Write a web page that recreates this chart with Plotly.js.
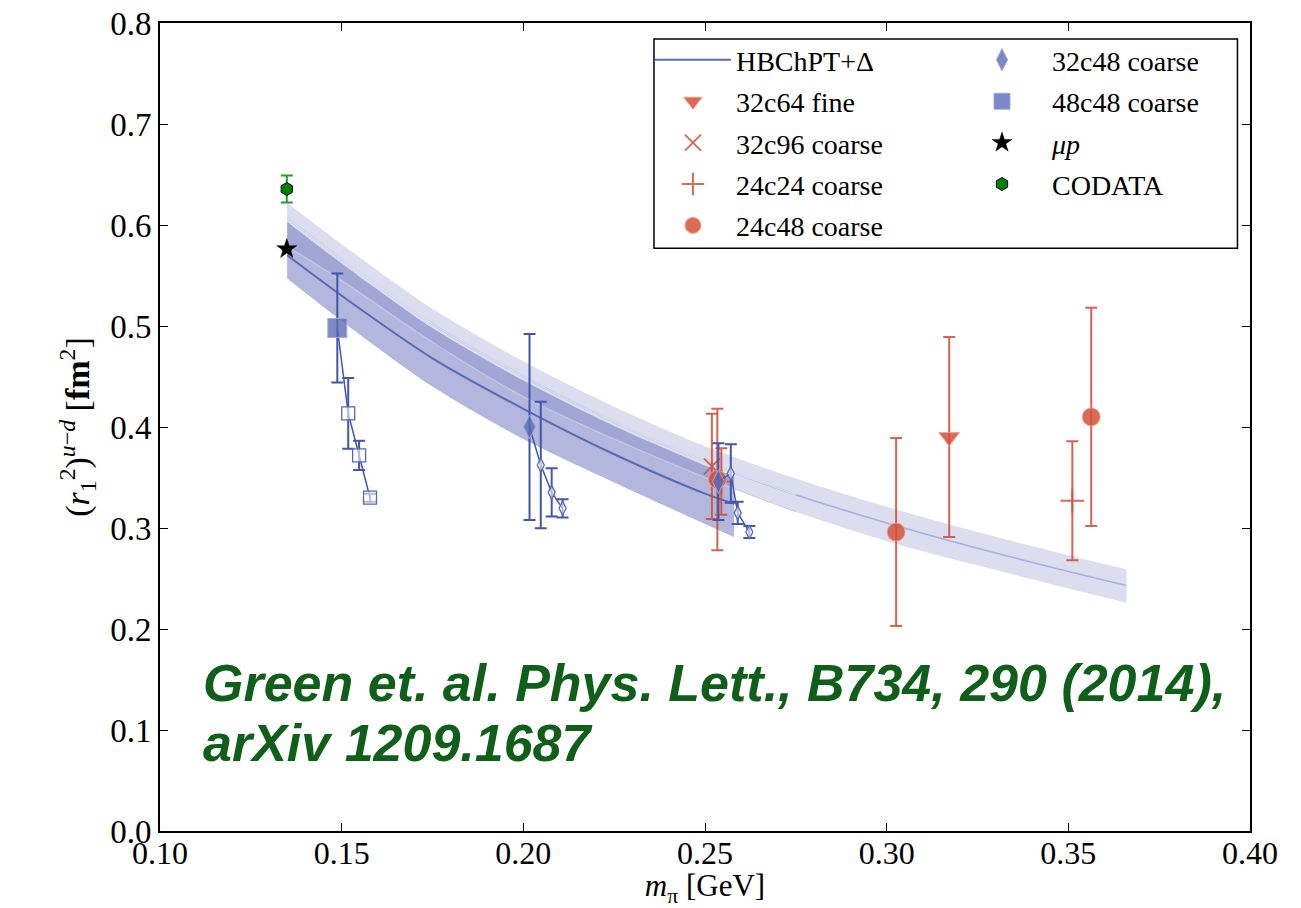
<!DOCTYPE html>
<html><head><meta charset="utf-8">
<script src="https://cdn.plot.ly/plotly-3.0.1.min.js"></script>
<style>html,body{margin:0;padding:0;background:#fff}</style>
</head><body>
<div id="chart" style="width:1301px;height:908px"></div>
<script>
// ---------------- data ----------------
// light band (full range)
const bandX      = [0.135, 0.15, 0.175, 0.20, 0.225, 0.25, 0.275, 0.30, 0.325, 0.35, 0.366];
const bandCenter = [0.607, 0.566, 0.502, 0.450, 0.405, 0.366, 0.333, 0.305, 0.280, 0.257, 0.243];
const bandUpper  = [0.622, 0.581, 0.517, 0.465, 0.420, 0.381, 0.349, 0.321, 0.296, 0.273, 0.259];
const bandLower  = [0.579, 0.545, 0.484, 0.430, 0.388, 0.350, 0.316, 0.287, 0.263, 0.240, 0.226];
// HBChPT+Delta fit band
const fitX      = [0.135, 0.15, 0.175, 0.20, 0.225, 0.25, 0.258];
const fitCenter = [0.570, 0.530, 0.468, 0.418, 0.373, 0.334, 0.324];
const fitUpper  = [0.603, 0.562, 0.498, 0.446, 0.401, 0.362, 0.351];
const fitLower  = [0.547, 0.505, 0.440, 0.388, 0.345, 0.304, 0.291];

// 48c48 coarse
const x48 = [0.1488], y48 = [0.498], e48 = [0.054];
const x48o = [0.1518, 0.1548, 0.1578], y48o = [0.4135, 0.372, 0.330], e48o = [0.035, 0.0145, 0.004];
// 32c48 coarse
const x32c48 = [0.2017, 0.2537], y32c48 = [0.400, 0.346], e32c48 = [0.092, 0.038];
const x32c48oA = [0.2048, 0.2078, 0.2108], y32c48oA = [0.3624, 0.3353, 0.3195], e32c48oA = [0.0627, 0.0239, 0.009];
const x32c48oB = [0.2571, 0.2590, 0.2622], y32c48oB = [0.354, 0.315, 0.296], e32c48oB = [0.029, 0.011, 0.006];
// red ensembles
const x32c64 = [0.3172], y32c64 = [0.390], e32c64 = [0.099];
const x32c96 = [0.2519], y32c96 = [0.361], e32c96 = [0.052];
const x24c24 = [0.2545, 0.3511], y24c24 = [0.346, 0.327], e24c24 = [0.033, 0.059];
const x24c48 = [0.2534, 0.3026, 0.3563], y24c48 = [0.348, 0.296, 0.410], e24c48 = [0.070, 0.093, 0.108];
// experiment
const xMup = [0.1349], yMup = [0.5763], eMup = [0.0010];
const xCod = [0.1349], yCod = [0.6356], eCod = [0.0133];

const xTicks = [0.10, 0.15, 0.20, 0.25, 0.30, 0.35, 0.40];
const yTicks = [0.0, 0.1, 0.2, 0.3, 0.4, 0.5, 0.6, 0.7, 0.8];

// ---------------- styles ----------------
const BLUE = '#4257ab', BLUEM = 'rgba(92,106,184,0.8)';
const RED = 'rgba(208,72,50,0.85)', REDM = 'rgba(212,82,58,0.85)';
const serif = "'Liberation Serif', 'Times New Roman', serif";
const nFit = fitX.length;
const sp = { shape: 'spline', smoothing: 0.8 };

function L(extra) { return Object.assign({ type: 'scatter', mode: 'lines', hoverinfo: 'skip', showlegend: false }, extra); }

const traces = [
  // light band
  L({ x: bandX, y: bandLower, line: Object.assign({ width: 0 }, sp) }),
  L({ x: bandX, y: bandUpper, fill: 'tonexty', fillcolor: '#dcddef', line: Object.assign({ width: 0 }, sp) }),
  L({ x: bandX, y: bandCenter, line: Object.assign({ color: '#aab0dc', width: 1.6 }, sp) }),
  // fit band
  L({ x: fitX, y: fitLower, line: Object.assign({ width: 0 }, sp) }),
  L({ x: fitX, y: fitUpper, fill: 'tonexty', fillcolor: 'rgba(103,111,187,0.5)', line: Object.assign({ width: 0 }, sp) }),
  L({ x: bandX.slice(0, nFit), y: bandCenter.slice(0, nFit), line: Object.assign({ color: 'rgba(228,230,246,0.95)', width: 1.3 }, sp) }),
  L({ x: bandX.slice(0, nFit), y: bandLower.slice(0, nFit), line: Object.assign({ color: 'rgba(200,204,234,0.9)', width: 1.1 }, sp) }),
  { x: fitX, y: fitCenter, type: 'scatter', mode: 'lines', name: 'HBChPT+Δ', legend: 'legend', legendgroup: 'g1',
    line: Object.assign({ color: '#5c68b4', width: 2 }, sp) },

  // red points (legend 1)
  { x: x32c64, y: y32c64, type: 'scatter', mode: 'markers', name: '32c64 fine', legend: 'legend', legendgroup: 'g2',
    error_y: { type: 'data', array: e32c64, color: RED, thickness: 2, width: 6 },
    marker: { symbol: 'triangle-down', size: 18, color: REDM, line: { color: 'rgba(240,160,140,0.9)', width: 1 } } },
  { x: x32c96, y: y32c96, type: 'scatter', mode: 'markers', name: '32c96 coarse', legend: 'legend', legendgroup: 'g3',
    error_y: { type: 'data', array: e32c96, color: RED, thickness: 2, width: 6 },
    marker: { symbol: 'x-thin', size: 16, color: REDM, line: { color: REDM, width: 2 } } },
  { x: x24c24, y: y24c24, type: 'scatter', mode: 'markers', name: '24c24 coarse', legend: 'legend', legendgroup: 'g4',
    error_y: { type: 'data', array: e24c24, color: RED, thickness: 2, width: 6 },
    marker: { symbol: 'cross-thin', size: 17, color: REDM, line: { color: REDM, width: 2 } } },
  { x: x24c48, y: y24c48, type: 'scatter', mode: 'markers', name: '24c48 coarse', legend: 'legend', legendgroup: 'g5',
    error_y: { type: 'data', array: e24c48, color: RED, thickness: 2, width: 6 },
    marker: { symbol: 'circle', size: 18, color: REDM, line: { color: 'rgba(240,160,140,0.9)', width: 1 } } },

  // connecting lines for blue ensembles
  L({ x: x48.concat(x48o), y: y48.concat(y48o), line: { color: BLUE, width: 1.5 } }),
  L({ x: [x32c48[0]].concat(x32c48oA), y: [y32c48[0]].concat(y32c48oA), line: { color: BLUE, width: 1.5 } }),
  L({ x: [x32c48[1]].concat(x32c48oB), y: [y32c48[1]].concat(y32c48oB), line: { color: BLUE, width: 1.5 } }),

  // open blue points
  { x: x48o, y: y48o, type: 'scatter', mode: 'markers', showlegend: false,
    error_y: { type: 'data', array: e48o, color: BLUE, thickness: 2, width: 6 },
    marker: { symbol: 'square', size: 13, color: 'rgba(255,255,255,0.6)', line: { color: '#5568b5', width: 1.3 } } },
  { x: x32c48oA, y: y32c48oA, type: 'scatter', mode: 'markers', showlegend: false,
    error_y: { type: 'data', array: e32c48oA, color: BLUE, thickness: 2, width: 6 },
    marker: { symbol: 'diamond-tall', size: 10, color: 'rgba(255,255,255,0.6)', line: { color: '#5568b5', width: 1.3 } } },
  { x: x32c48oB, y: y32c48oB, type: 'scatter', mode: 'markers', showlegend: false,
    error_y: { type: 'data', array: e32c48oB, color: BLUE, thickness: 2, width: 6 },
    marker: { symbol: 'diamond-tall', size: 10, color: 'rgba(255,255,255,0.6)', line: { color: '#5568b5', width: 1.3 } } },

  // filled blue points (legend 2)
  { x: x32c48, y: y32c48, type: 'scatter', mode: 'markers', name: '32c48 coarse', legend: 'legend2', legendgroup: 'h1',
    error_y: { type: 'data', array: e32c48, color: BLUE, thickness: 2, width: 6 },
    marker: { symbol: 'diamond-tall', size: 17, color: BLUEM, line: { color: 'rgba(160,170,220,0.9)', width: 1 } } },
  { x: x48, y: y48, type: 'scatter', mode: 'markers', name: '48c48 coarse', legend: 'legend2', legendgroup: 'h2',
    error_y: { type: 'data', array: e48, color: BLUE, thickness: 2, width: 6 },
    marker: { symbol: 'square', size: 19, color: BLUEM, line: { color: 'rgba(160,170,220,0.9)', width: 1 } } },

  // experiment (legend 2)
  { x: xMup, y: yMup, type: 'scatter', mode: 'markers', name: '<i>μp</i>', legend: 'legend2', legendgroup: 'h3',
    error_y: { type: 'data', array: eMup, color: '#000', thickness: 1.5, width: 5 },
    marker: { symbol: 'star', size: 15, color: '#000', line: { color: '#000', width: 0.5 } } },
  { x: xCod, y: yCod, type: 'scatter', mode: 'markers', name: 'CODATA', legend: 'legend2', legendgroup: 'h4',
    error_y: { type: 'data', array: eCod, color: '#2b9a2b', thickness: 2, width: 6 },
    marker: { symbol: 'hexagon', size: 13, color: '#008000', line: { color: '#000', width: 1 } } }
];

const legendCommon = {
  font: { family: serif, size: 28, color: '#000' },
  bgcolor: 'rgba(0,0,0,0)', borderwidth: 0,
  xanchor: 'left', yanchor: 'top', tracegroupgap: 2
};

const layout = {
  width: 1301, height: 908,
  margin: { l: 160, r: 51, t: 23, b: 77 },
  paper_bgcolor: '#fff', plot_bgcolor: '#fff',
  showlegend: true,
  xaxis: {
    range: [0.10, 0.40], tickvals: xTicks, ticktext: xTicks.map(v => v.toFixed(2)),
    ticks: 'inside', ticklen: 8, tickwidth: 1, tickcolor: '#000',
    showline: true, linewidth: 2, linecolor: '#000', mirror: 'ticks',
    showgrid: false, zeroline: false, ticklabelstandoff: -7,
    tickfont: { family: serif, size: 32, color: '#000' },
    title: { text: '<i>m</i><sub>π</sub> [GeV]', font: { family: serif, size: 31, color: '#000' }, standoff: 12 }
  },
  yaxis: {
    range: [0, 0.8], tickvals: yTicks, ticktext: yTicks.map(v => v.toFixed(1)),
    ticks: 'inside', ticklen: 8, tickwidth: 1, tickcolor: '#000',
    showline: true, linewidth: 2, linecolor: '#000', mirror: 'ticks',
    showgrid: false, zeroline: false,
    tickfont: { family: serif, size: 33, color: '#000' },
    title: { text: '(<i>r</i><sub>1</sub><sup>2</sup>)<sup><i>u</i>−<i>d</i></sup> [<b>fm</b><sup>2</sup>]',
             font: { family: serif, size: 34, color: '#000' }, standoff: 10 }
  },
  legend: Object.assign({}, legendCommon, { x: 0.4495, y: 0.985, itemwidth: 76 }),
  legend2: Object.assign({}, legendCommon, { x: 0.7266, y: 0.985, itemwidth: 90 }),
  shapes: [
    { type: 'rect', xref: 'paper', yref: 'paper', x0: 0.4532, x1: 0.9885, y0: 0.7212, y1: 0.9802,
      line: { color: '#000', width: 1.5 }, fillcolor: 'rgba(0,0,0,0)', layer: 'above' }
  ],
  annotations: [
    { xref: 'paper', yref: 'paper', x: 0.038, y: 0.1832, xanchor: 'left', yanchor: 'middle', showarrow: false,
      text: '<b><i>Green et. al. Phys. Lett., B734, 290 (2014),</i></b>',
      font: { family: "'Liberation Sans', Arial, sans-serif", size: 52, color: '#0f5f1a' } },
    { xref: 'paper', yref: 'paper', x: 0.038, y: 0.1089, xanchor: 'left', yanchor: 'middle', showarrow: false,
      text: '<b><i>arXiv 1209.1687</i></b>',
      font: { family: "'Liberation Sans', Arial, sans-serif", size: 52, color: '#0f5f1a' } }
  ]
};

Plotly.newPlot('chart', traces, layout, { displayModeBar: false, staticPlot: true });
</script>
</body></html>
